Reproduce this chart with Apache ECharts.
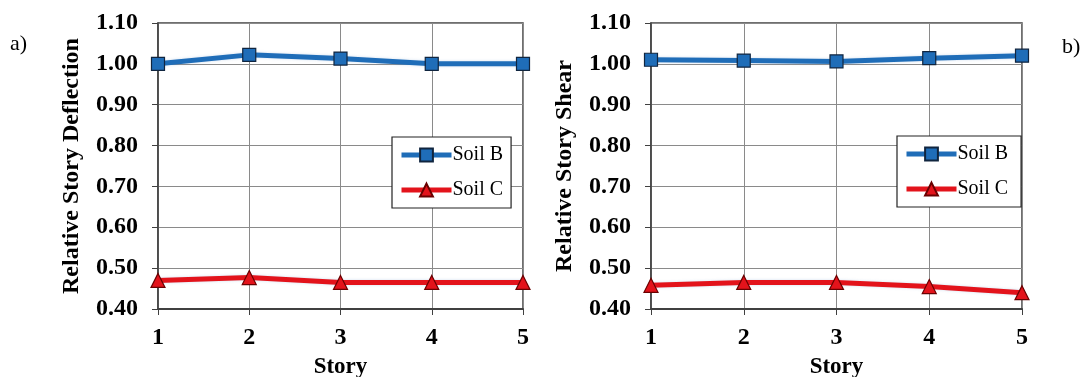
<!DOCTYPE html>
<html>
<head>
<meta charset="utf-8">
<script src="https://cdn.jsdelivr.net/npm/echarts@6/dist/echarts.min.js"></script>
<style>
html,body{margin:0;padding:0;background:#fff;}
#c{width:1086px;height:377px;}
</style>
</head>
<body>
<div id="c"></div>
<script>
const stories = ['1', '2', '3', '4', '5'];
const yTicks = [0.40, 0.50, 0.60, 0.70, 0.80, 0.90, 1.00, 1.10];
const deflSoilB = [1.000, 1.022, 1.013, 1.000, 1.000];
const deflSoilC = [0.470, 0.477, 0.465, 0.465, 0.465];
const shearSoilB = [1.010, 1.008, 1.006, 1.014, 1.020];
const shearSoilC = [0.458, 0.465, 0.465, 0.455, 0.440];
const seriesNames = ['Soil B', 'Soil C'];
const yNames = ['Relative Story Deflection', 'Relative Story Shear'];
const xName = 'Story';
const panelLabels = ['a)', 'b)'];

const FONT = '"Liberation Serif", "Times New Roman", serif';
const BLUE = '#1f6db8';
const RED = '#e3131b';

const chart = echarts.init(document.getElementById('c'), null, {renderer: 'canvas'});

function xAxis(i) {
  return {
    type: 'category', gridIndex: i, data: stories, boundaryGap: false,
    name: xName, nameLocation: 'middle', nameGap: 47, nameMoveOverlap: false,
    nameTextStyle: {fontFamily: FONT, fontWeight: 'bold', fontSize: 23, color: '#000'},
    axisLine: {show: true, lineStyle: {color: '#404040', width: 2}},
    axisTick: {show: true, inside: false, length: 6, alignWithLabel: true, lineStyle: {color: '#404040', width: 1}},
    axisLabel: {fontFamily: FONT, fontWeight: 'bold', fontSize: 24, color: '#000', margin: 17},
    splitLine: {show: true, lineStyle: {color: '#8a8a8a', width: 1}}
  };
}
function yAxis(i) {
  return {
    type: 'value', gridIndex: i, min: yTicks[0], max: yTicks[yTicks.length - 1], interval: 0.1,
    name: yNames[i], nameLocation: 'middle', nameGap: 74, nameMoveOverlap: false,
    nameTextStyle: {fontFamily: FONT, fontWeight: 'bold', fontSize: 24, color: '#000'},
    axisLine: {show: true, lineStyle: {color: '#404040', width: 1.5}},
    axisTick: {show: true, inside: false, length: 6, lineStyle: {color: '#404040', width: 1}},
    axisLabel: {fontFamily: FONT, fontWeight: 'bold', fontSize: 24, color: '#000', margin: 20,
      formatter: v => v.toFixed(2)},
    splitLine: {show: true, lineStyle: {color: '#8a8a8a', width: 1}}
  };
}
function lineSeries(name, data, i, color, symbol, size, border) {
  return {
    name: name, type: 'line', xAxisIndex: i, yAxisIndex: i, data: data,
    symbol: symbol, symbolSize: size, showSymbol: true,
    lineStyle: {color: color, width: 5, shadowColor: 'rgba(120,160,210,0.35)', shadowBlur: 3},
    itemStyle: {color: color, borderColor: border, borderWidth: 1.2},
    emphasis: {disabled: true}, animation: false, z: 3
  };
}
function legend(i, left, top) {
  return {
    show: true, orient: 'vertical', left: left, top: top,
    data: seriesNames.map(n => ({name: n + (i ? ' ' : '')})),
    backgroundColor: '#fff', borderColor: '#222', borderWidth: 1.2,
    padding: [8, 8, 8, 7], itemGap: 15, itemWidth: 50, itemHeight: 16,
    lineStyle: {width: 5},
    textStyle: {fontFamily: FONT, fontSize: 20, color: '#000', padding: [0, 0, 0, -4]},
    selectedMode: false
  };
}

const gridBase = {top: 23, bottom: 68, show: true, borderColor: '#404040', borderWidth: 1.5,
  backgroundColor: 'transparent', containLabel: false, outerBoundsMode: 'none'};

const option = {
  backgroundColor: '#fff',
  animation: false,
  grid: [
    Object.assign({left: 158, right: 563}, gridBase),
    Object.assign({left: 651, right: 64}, gridBase)
  ],
  xAxis: [xAxis(0), xAxis(1)],
  yAxis: [yAxis(0), yAxis(1)],
  legend: [legend(0, 392, 137), legend(1, 897, 136)],
  series: [
    lineSeries(seriesNames[0], deflSoilB, 0, BLUE, 'rect', 13, '#10253f'),
    lineSeries(seriesNames[1], deflSoilC, 0, RED, 'triangle', 14, '#6a0000'),
    lineSeries(seriesNames[0] + ' ', shearSoilB, 1, BLUE, 'rect', 13, '#10253f'),
    lineSeries(seriesNames[1] + ' ', shearSoilC, 1, RED, 'triangle', 14, '#6a0000')
  ],
  graphic: [
    {type: 'text', left: 10, top: 33, style: {text: panelLabels[0], font: '22px ' + FONT, fill: '#000'}},
    {type: 'text', left: 1062, top: 36, style: {text: panelLabels[1], font: '22px ' + FONT, fill: '#000'}}
  ]
};
chart.setOption(option);
</script>
</body>
</html>
